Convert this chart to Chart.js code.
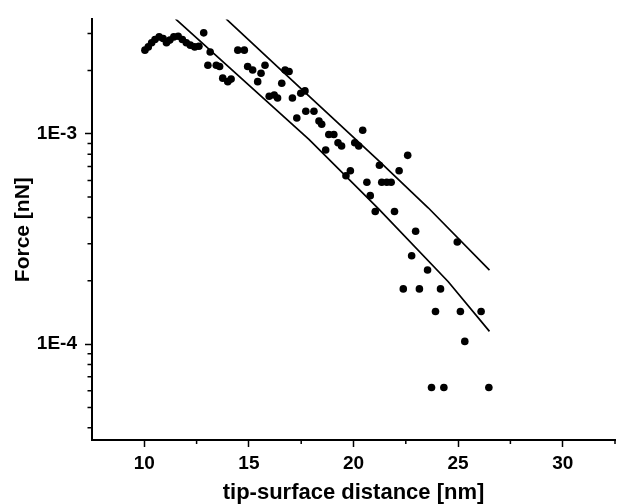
<!DOCTYPE html>
<html lang="en">
<head>
<meta charset="UTF-8">
<title>Force vs tip-surface distance</title>
<script src="https://cdn.jsdelivr.net/npm/chart.js/dist/chart.umd.min.js"></script>
<style>
  body { margin: 0; padding: 0; background: #fff; }
  #wrap { width: 619px; height: 504px; }
</style>
</head>
<body>
<div id="wrap"><canvas id="forceChart" width="619" height="504"></canvas></div>
<script>
// measured points
const distance = [
  10.03, 10.19, 10.35, 10.51, 10.71, 10.90, 11.06, 11.22, 11.41, 11.62, 11.82, 12.01, 12.20, 12.41, 12.61,
  12.84, 13.15, 13.04, 13.44, 13.60, 13.75, 13.99, 14.15, 14.47, 14.78, 14.94, 15.18, 15.58, 15.42, 15.77,
  15.97, 16.21, 16.37, 16.57, 16.73, 16.92, 17.08, 17.29, 17.48, 17.68, 17.72, 18.11,
  18.35, 18.48, 18.82, 19.06, 19.26, 19.43, 18.67, 20.06, 20.25, 20.44, 19.85, 19.64, 20.64, 20.80, 21.04,
  21.24, 21.35, 21.59, 21.80, 21.96, 22.18, 22.59, 22.97, 24.96, 22.78, 23.54, 22.38, 23.15, 24.16,
  23.92, 25.11, 26.10, 25.32, 23.73, 24.32, 26.47
];
const force = [
  2.50e-3, 2.59e-3, 2.71e-3, 2.81e-3, 2.89e-3, 2.84e-3, 2.71e-3, 2.79e-3, 2.89e-3, 2.91e-3, 2.81e-3, 2.71e-3, 2.64e-3, 2.59e-3, 2.61e-3,
  3.02e-3, 2.45e-3, 2.12e-3, 2.12e-3, 2.09e-3, 1.84e-3, 1.77e-3, 1.82e-3, 2.50e-3, 2.50e-3, 2.09e-3, 2.01e-3, 1.94e-3, 1.77e-3, 2.12e-3,
  1.51e-3, 1.53e-3, 1.48e-3, 1.74e-3, 2.01e-3, 1.98e-3, 1.48e-3, 1.19e-3, 1.56e-3, 1.60e-3, 1.28e-3, 1.28e-3,
  1.15e-3, 1.11e-3, 9.92e-4, 9.92e-4, 9.07e-4, 8.75e-4, 8.38e-4, 9.07e-4, 8.75e-4, 1.04e-3, 6.67e-4, 6.32e-4, 5.88e-4, 5.08e-4, 4.27e-4,
  7.09e-4, 5.88e-4, 5.88e-4, 5.88e-4, 4.27e-4, 6.67e-4, 7.90e-4, 3.44e-4, 3.06e-4, 2.63e-4, 2.25e-4, 1.83e-4, 1.83e-4, 1.83e-4,
  1.43e-4, 1.43e-4, 1.43e-4, 1.03e-4, 6.22e-5, 6.22e-5, 6.22e-5
];

// the two guide lines
const upperX = [13.91, 17.72, 21.20, 23.57, 26.50];
const upperY = [3.52e-3, 1.56e-3, 7.45e-4, 4.45e-4, 2.25e-4];
const lowerX = [11.49, 17.87, 21.20, 24.53, 26.50];
const lowerY = [3.52e-3, 9.40e-4, 4.40e-4, 1.98e-4, 1.15e-4];

// axes
const xTicks = [10, 15, 20, 25, 30];
const xMinor = [12.5, 17.5, 22.5, 27.5, 32.5];
const yTicks = [1e-4, 1e-3];
const yTickLabels = ['1E-4', '1E-3'];
const yMinor = [4e-5, 5e-5, 6e-5, 7e-5, 8e-5, 9e-5,
                2e-4, 3e-4, 4e-4, 5e-4, 6e-4, 7e-4, 8e-4, 9e-4,
                2e-3, 3e-3];

const toPoints = (xs, ys) => xs.map((x, i) => ({ x: x, y: ys[i] }));

const fontFamily = '"Liberation Sans", Arial, sans-serif';

// short minor ticks outside the axes
const minorTicks = {
  id: 'minorTicks',
  afterDraw(chart) {
    const { ctx, chartArea, scales: { x, y } } = chart;
    ctx.save();
    ctx.strokeStyle = '#000';
    ctx.lineWidth = 1.5;
    ctx.beginPath();
    xMinor.forEach(v => {
      const px = x.getPixelForValue(v);
      ctx.moveTo(px, chartArea.bottom);
      ctx.lineTo(px, chartArea.bottom + 4);
    });
    yMinor.forEach(v => {
      const py = y.getPixelForValue(v);
      ctx.moveTo(chartArea.left, py);
      ctx.lineTo(chartArea.left - 4.5, py);
    });
    ctx.stroke();
    ctx.restore();
  }
};

const lineStyle = {
  showLine: true,
  borderColor: '#000',
  borderWidth: 1.7,
  pointRadius: 0,
  tension: 0,
  fill: false
};

const forceChart = new Chart(document.getElementById('forceChart'), {
  type: 'scatter',
  data: {
    datasets: [
      {
        label: 'data',
        data: toPoints(distance, force),
        backgroundColor: '#000',
        borderColor: '#000',
        borderWidth: 0,
        pointRadius: 3.8
      },
      Object.assign({ label: 'upper', data: toPoints(upperX, upperY) }, lineStyle),
      Object.assign({ label: 'lower', data: toPoints(lowerX, lowerY) }, lineStyle)
    ]
  },
  options: {
    responsive: false,
    animation: false,
    layout: { padding: { top: 15, right: 1, left: 0, bottom: 0 } },
    plugins: {
      legend: { display: false },
      tooltip: { enabled: false }
    },
    scales: {
      x: {
        type: 'linear',
        min: 7.5,
        max: 32.5,
        afterBuildTicks: s => { s.ticks = xTicks.map(v => ({ value: v })); },
        afterFit: s => { s.height = 64; },
        ticks: {
          color: '#000',
          padding: 5,
          font: { family: fontFamily, size: 19, weight: 'bold' },
          callback: v => String(v)
        },
        grid: {
          drawOnChartArea: false,
          tickLength: 7,
          tickWidth: 1.5,
          tickColor: '#000'
        },
        border: { display: true, color: '#000', width: 2 },
        title: {
          display: true,
          text: 'tip-surface distance [nm]',
          color: '#000',
          padding: { top: 0, bottom: 0 },
          font: { family: fontFamily, size: 22, weight: 'bold', lineHeight: 1 }
        }
      },
      y: {
        type: 'logarithmic',
        min: 3.5e-5,
        max: 3.5e-3,
        afterBuildTicks: s => { s.ticks = yTicks.map(v => ({ value: v })); },
        afterFit: s => { s.width = 92; },
        ticks: {
          color: '#000',
          padding: 8,
          font: { family: fontFamily, size: 19, weight: 'bold' },
          callback: (v, i) => yTickLabels[i]
        },
        grid: {
          drawOnChartArea: false,
          tickLength: 7,
          tickWidth: 1.5,
          tickColor: '#000'
        },
        border: { display: true, color: '#000', width: 2 },
        title: {
          display: true,
          text: 'Force [nN]',
          color: '#000',
          padding: { top: 13, bottom: 0 },
          font: { family: fontFamily, size: 21, weight: 'bold', lineHeight: 1 }
        }
      }
    }
  },
  plugins: [minorTicks]
});
</script>
</body>
</html>
